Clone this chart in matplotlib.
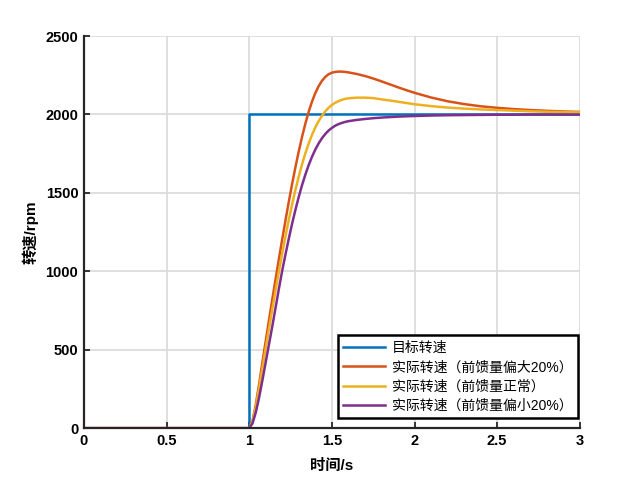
import matplotlib
matplotlib.use("Agg")
import matplotlib.pyplot as plt

plt.rcParams['font.family'] = ['Liberation Sans', 'Noto Sans CJK SC', 'DejaVu Sans']

# 时间轴采样点 (s)
t = [0,
     1.00, 1.02, 1.04, 1.06, 1.08, 1.10, 1.12, 1.14, 1.16, 1.18,
     1.20, 1.22, 1.24, 1.26, 1.28, 1.30, 1.32, 1.34, 1.36, 1.38,
     1.40, 1.42, 1.44, 1.46, 1.48, 1.50, 1.52, 1.54, 1.56, 1.58, 1.60,
     1.65, 1.70, 1.75, 1.80, 1.85, 1.90, 1.95, 2.00,
     2.10, 2.20, 2.30, 2.40, 2.50, 2.60, 2.70, 2.80, 2.90, 3.00]

# 目标转速 (阶跃)
t_ref = [0, 1.0, 1.0, 3.0]
n_ref = [0, 0, 2000, 2000]

# 前馈量偏大20%
n_big = [0,
         0, 45, 150, 280, 420, 555, 690, 822, 952, 1080,
         1205, 1327, 1445, 1558, 1665, 1765, 1858, 1942, 2017, 2082,
         2136, 2180, 2214, 2239, 2256, 2266, 2271, 2273, 2273, 2271, 2268,
         2258, 2245, 2229, 2211, 2192, 2173, 2155, 2138,
         2108, 2084, 2066, 2052, 2042, 2034, 2028, 2023, 2019, 2016]

# 前馈量正常
n_norm = [0,
          0, 40, 135, 255, 385, 510, 635, 758, 880, 1000,
          1115, 1225, 1330, 1428, 1520, 1605, 1683, 1753, 1815, 1870,
          1917, 1957, 1991, 2019, 2042, 2060, 2074, 2085, 2093, 2099, 2103,
          2107, 2107, 2104, 2096, 2089, 2081, 2073, 2065,
          2053, 2044, 2037, 2032, 2028, 2024, 2020, 2017, 2015, 2013]

# 前馈量偏小20%
n_small = [0,
           0, 30, 100, 195, 305, 420, 535, 650, 770, 890,
           1005, 1110, 1210, 1305, 1393, 1475, 1550, 1617, 1677, 1730,
           1776, 1815, 1848, 1875, 1897, 1914, 1928, 1938, 1946, 1952, 1957,
           1965, 1971, 1976, 1980, 1983, 1986, 1988, 1990,
           1993, 1995, 1996, 1997, 1998, 1998, 1999, 1999, 1999, 1999]

labels = ['目标转速', '实际转速（前馈量偏大20%）', '实际转速（前馈量正常）', '实际转速（前馈量偏小20%）']
colors = ['#0072BD', '#D95319', '#EDB120', '#7E2F8E']

fig = plt.figure(figsize=(6.4, 4.8), dpi=100)
ax = fig.add_axes([0.131, 0.108, 0.775, 0.817])

ax.plot(t_ref, n_ref, color=colors[0], lw=1.8, label=labels[0])
ax.plot(t, n_big, color=colors[1], lw=1.8, label=labels[1])
ax.plot(t, n_norm, color=colors[2], lw=1.8, label=labels[2])
ax.plot(t, n_small, color=colors[3], lw=1.8, label=labels[3])

ax.set_xlim(0, 3)
ax.set_ylim(0, 2500)
ax.set_xticks([0, 0.5, 1, 1.5, 2, 2.5, 3])
ax.set_xticklabels(['0', '0.5', '1', '1.5', '2', '2.5', '3'])
ax.set_yticks([0, 500, 1000, 1500, 2000, 2500])

ax.grid(True, color='#dcdcdc', lw=1.3)
ax.set_axisbelow(True)
ax.spines['top'].set_visible(False)
ax.spines['right'].set_visible(False)
for s in ['left', 'bottom']:
    ax.spines[s].set_linewidth(1.6)
    ax.spines[s].set_color('#262626')
ax.tick_params(direction='in', length=4, width=1.3, colors='#262626',
               labelsize=10.5, pad=4)
for lab in ax.get_xticklabels() + ax.get_yticklabels():
    lab.set_fontweight('bold')
    lab.set_color('black')

ax.set_xlabel('时间/s', fontsize=11, fontweight='bold', labelpad=8)
ax.set_ylabel('转速/rpm', fontsize=11, fontweight='bold', labelpad=5)

leg = ax.legend(loc='lower right', bbox_to_anchor=(0.996, 0.025),
                fontsize=10, handlelength=3.0,
                fancybox=False, framealpha=1, edgecolor='black',
                borderpad=0.4, labelspacing=0.38, handletextpad=0.5,
                borderaxespad=0)
leg.get_frame().set_linewidth(1.8)

fig.savefig('out.png', dpi=100)
